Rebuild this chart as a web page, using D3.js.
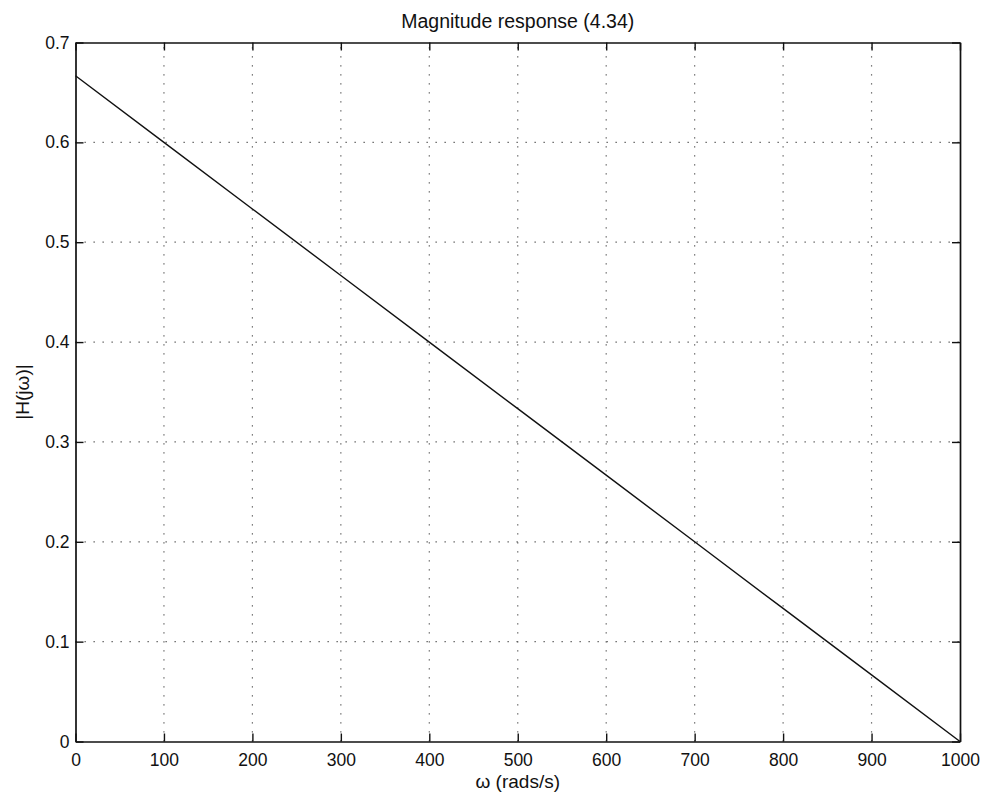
<!DOCTYPE html>
<html>
<head>
<meta charset="utf-8">
<script src="https://cdn.jsdelivr.net/npm/d3@7"></script>
<style>
  html, body { margin: 0; padding: 0; background: #fff; }
  text { font-family: "Liberation Sans", Arial, Helvetica, sans-serif; fill: #111; }
</style>
</head>
<body>
<svg id="chart" width="987" height="797"></svg>
<script>
// Data
const omega = [0, 100, 200, 300, 400, 500, 600, 700, 800, 900, 1000];
const magnitude = [0.6667, 0.6, 0.5333, 0.4667, 0.4, 0.3333, 0.2667, 0.2, 0.1333, 0.0667, 0.0];
const xTicks = [0, 100, 200, 300, 400, 500, 600, 700, 800, 900, 1000];
const yTicks = [0, 0.1, 0.2, 0.3, 0.4, 0.5, 0.6, 0.7];
const titleText = "Magnitude response (4.34)";
const xLabel = "\u03c9 (rads/s)";
const yLabel = "|H(j\u03c9)|";

const W = 987, H = 797;
const m = { left: 75.5, right: W - 960, top: 42.5, bottom: H - 741.5 };
const svg = d3.select("#chart");

const x = d3.scaleLinear().domain([0, 1000]).range([m.left, W - m.right]);
const y = d3.scaleLinear().domain([0, 0.7]).range([H - m.bottom, m.top]);

const g = svg.append("g");

// Grid
g.selectAll(".vgrid").data(xTicks.slice(1, -1)).enter().append("line")
  .attr("x1", d => x(d)).attr("x2", d => x(d))
  .attr("y1", y(0)).attr("y2", y(0.7))
  .attr("stroke", "#555").attr("stroke-width", 1.2)
  .attr("stroke-dasharray", "1.3,7.7");
g.selectAll(".hgrid").data(yTicks.slice(1, -1)).enter().append("line")
  .attr("y1", d => y(d)).attr("y2", d => y(d))
  .attr("x1", x(0)).attr("x2", x(1000))
  .attr("stroke", "#555").attr("stroke-width", 1.2)
  .attr("stroke-dasharray", "1.3,7.7");

// Line
const line = d3.line().x((d, i) => x(omega[i])).y(d => y(d));
g.append("path").datum(magnitude)
  .attr("d", line).attr("fill", "none")
  .attr("stroke", "#111").attr("stroke-width", 1.4);

// Axes (MATLAB style, inward ticks on all sides)
const tickLen = 8;
const fmtY = d => d === 0 ? "0" : d3.format(".1f")(d);

const xb = g.append("g").attr("transform", `translate(0,${y(0)})`)
  .call(d3.axisBottom(x).tickValues(xTicks).tickSizeInner(-tickLen).tickSizeOuter(0).tickPadding(12).tickFormat(d3.format("d")));
const xt = g.append("g").attr("transform", `translate(0,${y(0.7)})`)
  .call(d3.axisTop(x).tickValues(xTicks).tickSizeInner(-tickLen).tickSizeOuter(0).tickFormat(""));
const yl = g.append("g").attr("transform", `translate(${x(0)},0)`)
  .call(d3.axisLeft(y).tickValues(yTicks).tickSizeInner(-tickLen).tickSizeOuter(0).tickPadding(6).tickFormat(fmtY));
const yr = g.append("g").attr("transform", `translate(${x(1000)},0)`)
  .call(d3.axisRight(y).tickValues(yTicks).tickSizeInner(-tickLen).tickSizeOuter(0).tickFormat(""));

[xb, xt, yl, yr].forEach(a => {
  a.select(".domain").attr("stroke", "#111").attr("stroke-width", 1.7);
  a.selectAll(".tick line").attr("stroke", "#111").attr("stroke-width", 1.4);
  a.selectAll(".tick text").attr("font-size", 17.5).attr("fill", "#111")
    .attr("font-family", "'Liberation Sans', Arial, Helvetica, sans-serif");
});
xb.selectAll(".tick text").attr("dy", "0.71em");

// Title & labels
svg.append("text").attr("x", (x(0) + x(1000)) / 2).attr("y", 28)
  .attr("text-anchor", "middle").attr("font-size", 19.5).text(titleText);
svg.append("text").attr("x", (x(0) + x(1000)) / 2).attr("y", 788)
  .attr("text-anchor", "middle").attr("font-size", 19).text(xLabel);
svg.append("text")
  .attr("transform", `translate(29,${(y(0) + y(0.7)) / 2}) rotate(-90)`)
  .attr("text-anchor", "middle").attr("font-size", 19).text(yLabel);
</script>
</body>
</html>
